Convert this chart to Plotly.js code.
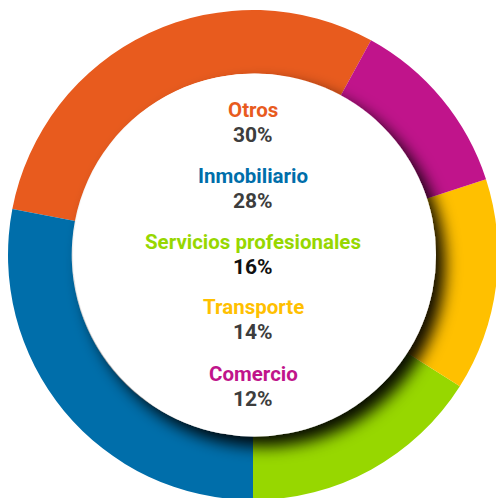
<!DOCTYPE html>
<html>
<head>
<meta charset="utf-8">
<script src="https://cdn.plot.ly/plotly-3.0.1.min.js"></script>
<style>
  html, body { margin: 0; padding: 0; width: 496px; height: 498px; overflow: hidden; background: #fff; }
  #chart { position: absolute; left: 7.5px; top: 10px; width: 490px; height: 490px; }
</style>
</head>
<body>
<div id="chart"></div>
<script>
const categories = ["Otros", "Inmobiliario", "Servicios profesionales", "Transporte", "Comercio"];
const values = [30, 28, 16, 14, 12];
const colors = ["#E85B1E", "#006EAA", "#97D700", "#FFC000", "#C0148B"];
const pctColors = ["#3d3d3d", "#3d3d3d", "#111111", "#3d3d3d", "#3d3d3d"];

const H = 490, TOP = 10;
const labelY = [110, 176, 242, 307, 374];
const pctOffset = 25;
const toPaper = px => 1 - (px - TOP) / H;

const annotations = [];
categories.forEach((c, i) => {
  annotations.push({
    text: c, x: 0.5, y: toPaper(labelY[i]), xref: 'paper', yref: 'paper',
    xanchor: 'center', yanchor: 'middle', showarrow: false,
    font: { family: 'Roboto, sans-serif', size: 20.5, color: colors[i], weight: 'bold' }
  });
  annotations.push({
    text: values[i] + '%', x: 0.5, y: toPaper(labelY[i] + pctOffset), xref: 'paper', yref: 'paper',
    xanchor: 'center', yanchor: 'middle', showarrow: false,
    font: { family: 'Roboto, sans-serif', size: 21, color: pctColors[i], weight: 'bold' }
  });
});

const holeR = 181.5 / H;
const data = [{
  type: 'pie',
  labels: categories,
  values: values,
  marker: { colors: colors, line: { width: 0 } },
  hole: 0.74,
  sort: false,
  direction: 'counterclockwise',
  rotation: -79.2,
  textinfo: 'none',
  hoverinfo: 'none',
  domain: { x: [0, 1], y: [0, 1] }
}];

const layout = {
  width: 490, height: 490,
  margin: { l: 0, r: 0, t: 0, b: 0, pad: 0 },
  showlegend: false,
  paper_bgcolor: 'rgba(0,0,0,0)',
  plot_bgcolor: 'rgba(0,0,0,0)',
  shapes: [{
    type: 'circle', xref: 'paper', yref: 'paper',
    x0: 0.5 - holeR + 1.5 / H, x1: 0.5 + holeR + 1.5 / H,
    y0: 0.5 - holeR, y1: 0.5 + holeR,
    fillcolor: '#ffffff', line: { width: 0 }, layer: 'above'
  }],
  annotations: annotations
};

Plotly.newPlot('chart', data, layout, { displayModeBar: false, staticPlot: true }).then(gd => {
  const svg = gd.querySelector('svg.main-svg');
  const NS = 'http://www.w3.org/2000/svg';
  let defs = svg.querySelector('defs');
  if (!defs) { defs = document.createElementNS(NS, 'defs'); svg.insertBefore(defs, svg.firstChild); }
  const f = document.createElementNS(NS, 'filter');
  f.setAttribute('id', 'innerShadow');
  f.setAttribute('x', '-20%'); f.setAttribute('y', '-20%');
  f.setAttribute('width', '140%'); f.setAttribute('height', '140%');
  const ds = document.createElementNS(NS, 'feDropShadow');
  ds.setAttribute('dx', '9'); ds.setAttribute('dy', '10');
  ds.setAttribute('stdDeviation', '8');
  ds.setAttribute('flood-color', '#000');
  ds.setAttribute('flood-opacity', '0.95');
  f.appendChild(ds);
  defs.appendChild(f);
  gd.querySelectorAll('.shapelayer path').forEach(p => p.setAttribute('filter', 'url(#innerShadow)'));
});
</script>
</body>
</html>
